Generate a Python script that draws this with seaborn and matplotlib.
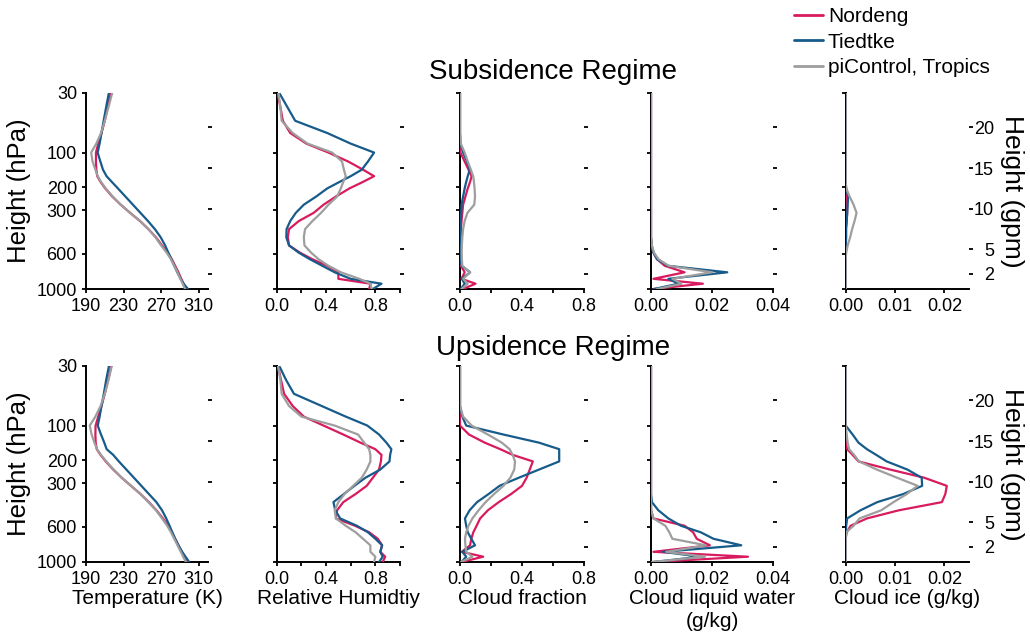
import matplotlib
matplotlib.use('Agg')
import matplotlib.pyplot as plt
from matplotlib.lines import Line2D
import pandas as pd
import seaborn as sns

sns.set_style('ticks')
plt.rcParams['font.family'] = ['Liberation Sans', 'DejaVu Sans']
plt.rcParams['text.color'] = 'black'
plt.rcParams['axes.labelcolor'] = 'black'

# model levels (km), bottom -> top
height_km = [0.15, 0.8, 1.4, 2.2, 3.0, 3.8, 4.6, 5.5, 6.5, 7.5, 8.5, 9.5, 10.5,
             11.5, 12.5, 13.3, 14.0, 14.8, 15.8, 16.9, 18.0, 19.3, 20.8, 22.5, 24.25]

# left axis: pressure labels at their height
p_labels = ['1000', '600', '300', '200', '100', '30']
p_heights = [0.15, 4.49, 9.83, 12.62, 16.88, 24.25]
# right axis: geopotential height
gpm_ticks = [2, 5, 10, 15, 20]
gpm_labels = ['2', '5', '10', '15', '20']

schemes = ['Nordeng', 'Tiedtke', 'piControl, Tropics']
colors = ['#D81B5E', '#175B8A', '#9E9E9E']

# ---- subsidence regime ----
sub_t_nordeng = [296.5, 294, 291.5, 288.5, 285, 281.5, 277, 271, 264.5, 256.5, 247.5, 237, 227,
                 218, 210.5, 205.5, 202, 201, 200.6, 200.6, 203, 206.5, 210, 213, 216.5]
sub_t_tiedtke = [298.7, 294, 290.8, 287.3, 284, 281, 277.8, 274.3, 269.6, 263.4, 256, 248, 240,
                 232, 224, 217.5, 211.9, 208.1, 205.3, 202.4, 204.5, 206.5, 208.8, 211.5, 214.4]
sub_t_pictrl = [295.5, 293, 290.5, 287.5, 284, 280.5, 276, 270, 264, 256.5, 247.5, 237, 227,
                218.5, 211, 206, 202.5, 200, 197, 195.5, 201, 206, 210, 214, 218]

sub_rh_nordeng = [0.75, 0.76, 0.5, 0.5, 0.41, 0.29, 0.19, 0.1, 0.09, 0.1, 0.18, 0.3, 0.38,
                  0.48, 0.59, 0.7, 0.79, 0.7, 0.58, 0.42, 0.24, 0.11, 0.05, 0.03, 0.005]
sub_rh_tiedtke = [0.78, 0.85, 0.6, 0.47, 0.37, 0.27, 0.18, 0.1, 0.078, 0.08, 0.11, 0.155, 0.22,
                  0.32, 0.41, 0.51, 0.6, 0.69, 0.74, 0.79, 0.6, 0.41, 0.15, 0.086, 0.02]
sub_rh_pictrl = [0.77, 0.76, 0.67, 0.52, 0.42, 0.34, 0.28, 0.225, 0.22, 0.23, 0.29, 0.36, 0.42,
                 0.49, 0.52, 0.54, 0.56, 0.545, 0.53, 0.45, 0.25, 0.13, 0.04, 0.03, 0.014]

sub_cf_nordeng = [0.02, 0.1, 0.01, 0.03, 0.006, 0.004, 0.003, 0.003, 0.004, 0.006, 0.01, 0.015, 0.02,
                  0.035, 0.05, 0.065, 0.075, 0.055, 0.03, 0.003, 0, 0, 0, 0, 0]
sub_cf_tiedtke = [0.005, 0.03, 0.012, 0.065, 0.01, 0.004, 0.003, 0.003, 0.003, 0.004, 0.005, 0.008, 0.01,
                  0.02, 0.03, 0.04, 0.05, 0.063, 0.045, 0.02, 0.003, 0, 0, 0, 0]
sub_cf_pictrl = [0.01, 0.05, 0.02, 0.065, 0.015, 0.012, 0.011, 0.012, 0.015, 0.02, 0.03, 0.048, 0.092,
                 0.097, 0.094, 0.09, 0.085, 0.07, 0.05, 0.03, 0.005, 0, 0, 0, 0]

sub_lw_nordeng = [0.0008, 0.017, 0.0008, 0.011, 0.0045, 0.002, 0.0008, 0.0002, 0, 0, 0, 0, 0,
                  0, 0, 0, 0, 0, 0, 0, 0, 0, 0, 0, 0]
sub_lw_tiedtke = [0.001, 0.009, 0.0057, 0.025, 0.0055, 0.002, 0.0008, 0.0002, 0, 0, 0, 0, 0,
                  0, 0, 0, 0, 0, 0, 0, 0, 0, 0, 0, 0]
sub_lw_pictrl = [0.002, 0.01, 0.007, 0.02, 0.0058, 0.0025, 0.001, 0.0003, 0, 0, 0, 0, 0,
                 0, 0, 0, 0, 0, 0, 0, 0, 0, 0, 0, 0]

sub_ice_nordeng = [0, 0, 0, 0, 0, 0, 0, 0, 0, 0, 0.0002, 0.0003, 0.0003,
                   0.0001, 0, 0, 0, 0, 0, 0, 0, 0, 0, 0, 0]
sub_ice_tiedtke = [0, 0, 0, 0, 0, 0, 0, 0, 0.0001, 0.0001, 0.0002, 0.0003, 0.0004,
                   0.0005, 0.0001, 0, 0, 0, 0, 0, 0, 0, 0, 0, 0]
sub_ice_pictrl = [0, 0, 0, 0, 0, 0, 0.0001, 0.0004, 0.0009, 0.0013, 0.0018, 0.0022, 0.0016,
                  0.0008, 0.0001, 0, 0, 0, 0, 0, 0, 0, 0, 0, 0]

# ---- upsidence regime ----
up_t_nordeng = [298, 295, 292, 288.5, 285, 281.5, 277.5, 272, 265, 257, 248, 238, 228,
                219, 211, 205.5, 201.5, 200.3, 200, 200.2, 203, 206.5, 210, 213.5, 217]
up_t_tiedtke = [300, 296, 292.5, 288.5, 285, 282, 279, 275.5, 271, 265, 257, 249, 241,
                233, 225, 219, 212, 209.5, 206, 202.5, 204.5, 206.5, 209, 211.5, 214.5]
up_t_pictrl = [296.5, 293.5, 291, 287.5, 284, 280.5, 276.5, 271, 264.5, 256.5, 248, 238, 228,
               219.5, 211.5, 206, 201.8, 199, 196, 194, 200, 205.5, 210, 214, 217.5]

up_rh_nordeng = [0.86, 0.88, 0.84, 0.855, 0.82, 0.75, 0.635, 0.48, 0.49, 0.54, 0.64, 0.73, 0.78,
                 0.83, 0.845, 0.85, 0.8, 0.68, 0.54, 0.38, 0.22, 0.13, 0.06, 0.035, 0.01]
up_rh_tiedtke = [0.83, 0.86, 0.84, 0.855, 0.8, 0.74, 0.65, 0.515, 0.475, 0.46, 0.545, 0.63, 0.72,
                 0.84, 0.915, 0.92, 0.93, 0.89, 0.83, 0.735, 0.56, 0.365, 0.14, 0.076, 0.02]
up_rh_pictrl = [0.79, 0.8, 0.76, 0.76, 0.7, 0.64, 0.56, 0.48, 0.47, 0.5, 0.55, 0.62, 0.69,
                0.73, 0.76, 0.76, 0.75, 0.71, 0.66, 0.47, 0.2, 0.1, 0.04, 0.03, 0.01]

up_cf_nordeng = [0.01, 0.15, 0.012, 0.065, 0.073, 0.086, 0.107, 0.13, 0.18, 0.25, 0.33, 0.4, 0.43,
                 0.45, 0.47, 0.34, 0.26, 0.16, 0.058, 0, 0, 0, 0, 0, 0]
up_cf_tiedtke = [0.01, 0.04, 0.015, 0.097, 0.073, 0.05, 0.04, 0.032, 0.062, 0.11, 0.185, 0.255, 0.38,
                 0.51, 0.64, 0.64, 0.64, 0.51, 0.28, 0.04, 0.015, 0, 0, 0, 0]
up_cf_pictrl = [0.005, 0.08, 0.04, 0.035, 0.032, 0.04, 0.055, 0.08, 0.12, 0.165, 0.22, 0.28, 0.325,
                0.35, 0.355, 0.34, 0.32, 0.27, 0.18, 0.075, 0.02, 0, 0, 0, 0]

up_lw_nordeng = [0.0005, 0.0318, 0.0008, 0.0193, 0.015, 0.0138, 0.011, 0.0008, 0, 0, 0, 0, 0,
                 0, 0, 0, 0, 0, 0, 0, 0, 0, 0, 0, 0]
up_lw_tiedtke = [0.001, 0.016, 0.004, 0.0296, 0.0205, 0.0163, 0.0098, 0.0057, 0.0024, 0.0003, 0, 0, 0,
                 0, 0, 0, 0, 0, 0, 0, 0, 0, 0, 0, 0]
up_lw_pictrl = [0.0003, 0.0177, 0.005, 0.018, 0.007, 0.006, 0.0047, 0.0008, 0.0001, 0, 0, 0, 0,
                0, 0, 0, 0, 0, 0, 0, 0, 0, 0, 0, 0]

up_ice_nordeng = [0, 0, 0, 0, 0, 0.0002, 0.001, 0.0043, 0.0108, 0.0195, 0.0202, 0.0205, 0.0159,
                  0.009, 0.0026, 0.0014, 0.0003, 0, 0, 0, 0, 0, 0, 0, 0]
up_ice_tiedtke = [0, 0, 0, 0, 0, 0, 0.0001, 0.0003, 0.003, 0.0064, 0.0117, 0.0155, 0.0154,
                  0.0125, 0.0083, 0.0062, 0.0043, 0.0026, 0.0014, 0, 0, 0, 0, 0, 0]
up_ice_pictrl = [0, 0, 0, 0, 0, 0.0001, 0.0016, 0.0028, 0.0072, 0.0097, 0.0124, 0.0146, 0.0104,
                 0.0063, 0.0027, 0.0017, 0.0007, 0.0004, 0.0002, 0, 0, 0, 0, 0, 0]

rows = [
    [(sub_t_nordeng, sub_t_tiedtke, sub_t_pictrl),
     (sub_rh_nordeng, sub_rh_tiedtke, sub_rh_pictrl),
     (sub_cf_nordeng, sub_cf_tiedtke, sub_cf_pictrl),
     (sub_lw_nordeng, sub_lw_tiedtke, sub_lw_pictrl),
     (sub_ice_nordeng, sub_ice_tiedtke, sub_ice_pictrl)],
    [(up_t_nordeng, up_t_tiedtke, up_t_pictrl),
     (up_rh_nordeng, up_rh_tiedtke, up_rh_pictrl),
     (up_cf_nordeng, up_cf_tiedtke, up_cf_pictrl),
     (up_lw_nordeng, up_lw_tiedtke, up_lw_pictrl),
     (up_ice_nordeng, up_ice_tiedtke, up_ice_pictrl)],
]
row_titles = ['Subsidence Regime', 'Upsidence Regime']
xlabels = ['Temperature (K)', 'Relative Humidtiy', 'Cloud fraction',
           'Cloud liquid water\n(g/kg)', 'Cloud ice (g/kg)']
xlims = [(190, 320), (0, 1.0), (0, 0.8), (0, 0.04), (0, 0.025)]
xticks = [[190, 230, 270, 310], [0, 0.2, 0.4, 0.6, 0.8, 1.0], [0, 0.2, 0.4, 0.6, 0.8],
          [0, 0.02, 0.04], [0, 0.01, 0.02]]
xticklabels = [['190', '230', '270', '310'], ['0.0', '', '0.4', '', '0.8', ''],
               ['0.0', '', '0.4', '', '0.8'], ['0.00', '0.02', '0.04'], ['0.00', '0.01', '0.02']]

W, H = 1030, 643
col_left = [86, 276.7, 460, 651, 845.7]
col_right = [208, 400, 584, 773, 969]
row_top = [92.7, 365.7]
row_h = 196.3

fig = plt.figure(figsize=(W / 100, H / 100), dpi=100)

for r in range(2):
    for c in range(5):
        ax = fig.add_axes([col_left[c] / W, 1 - (row_top[r] + row_h) / H,
                           (col_right[c] - col_left[c]) / W, row_h / H])
        frames = []
        for name, vals in zip(schemes, rows[r][c]):
            frames.append(pd.DataFrame({'height': height_km, 'value': vals, 'scheme': name}))
        df = pd.concat(frames, ignore_index=True)
        sns.lineplot(data=df, x='value', y='height', hue='scheme', hue_order=schemes,
                     palette=colors, sort=False, estimator=None, legend=False,
                     linewidth=1.6, ax=ax)
        for ln in ax.lines:
            ln.set_zorder(3)
        ax.set_xlim(*xlims[c])
        ax.set_ylim(0.15, 24.25)
        for s in ['top', 'right']:
            ax.spines[s].set_visible(False)
        for s in ['left', 'bottom']:
            ax.spines[s].set_linewidth(1.4)
            ax.spines[s].set_color('black')
        ax.set_xticks(xticks[c])
        ax.set_xticklabels(xticklabels[c])
        ax.set_yticks(p_heights)
        ax.tick_params(length=3, width=1.3, labelsize=13, colors='black')
        if c == 0:
            ax.set_yticklabels(p_labels)
            ax.set_ylabel('Height (hPa)', fontsize=18.5, labelpad=4)
        else:
            ax.set_yticklabels([])
            ax.set_ylabel('')
        if r == 1:
            ax.set_xlabel(xlabels[c], fontsize=15, labelpad=1, linespacing=1.25)
        else:
            ax.set_xlabel('')

        ax2 = ax.twinx()
        ax2.set_ylim(0.15, 24.25)
        for s in ax2.spines.values():
            s.set_visible(False)
        ax2.set_yticks(gpm_ticks)
        ax2.tick_params(axis='y', length=3, width=1.3, labelsize=13, pad=15, colors='black')
        if c == 4:
            ax2.set_yticklabels(gpm_labels)
            for lbl in ax2.get_yticklabels():
                lbl.set_ha('right')
            ax2.set_ylabel('Height (gpm)', fontsize=19, rotation=270, va='bottom', labelpad=4)
        else:
            ax2.set_yticklabels([])

    fig.text(553 / W, 1 - (72 + 276 * r) / H, row_titles[r], ha='center', va='center',
             fontsize=20)

handles = [Line2D([0], [0], color=col, lw=2) for col in colors]
fig.legend(handles, schemes, loc='upper left', bbox_to_anchor=(784 / W, 1 + 3 / H),
           frameon=False, fontsize=15, handlelength=1.35, handletextpad=0.25,
           borderpad=0, labelspacing=0.3)

fig.savefig('out.png', dpi=100)
